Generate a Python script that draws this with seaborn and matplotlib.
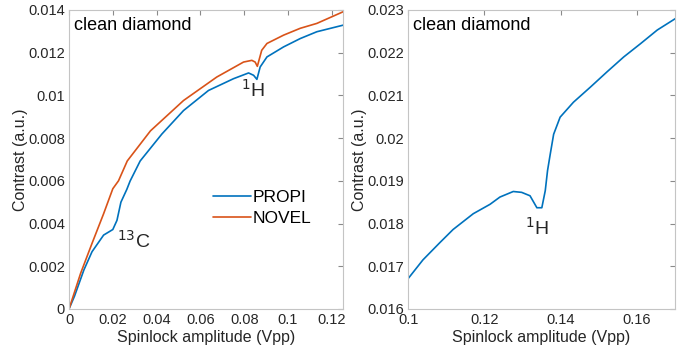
import numpy as np
import pandas as pd
import matplotlib
matplotlib.use("Agg")
import matplotlib.pyplot as plt
import seaborn as sns

# Spinlock sweep, full range: PROPI and NOVEL sequences
propi_x = [0.0, 0.0025, 0.0068, 0.0105, 0.0158, 0.0200, 0.0219, 0.0237, 0.0264, 0.0279,
           0.0325, 0.0424, 0.0523, 0.0637, 0.0751, 0.0820, 0.0843, 0.0858, 0.0873, 0.0904,
           0.0980, 0.1056, 0.1132, 0.1253]
propi_y = [0.0, 0.0006, 0.00183, 0.00268, 0.00346, 0.00372, 0.00415, 0.0050, 0.0056, 0.00599,
           0.00693, 0.00819, 0.00929, 0.01023, 0.01078, 0.01105, 0.01094, 0.01075, 0.01133, 0.01180,
           0.01227, 0.01266, 0.01298, 0.01329]

novel_x = [0.0, 0.0053, 0.0105, 0.0158, 0.0200, 0.0226, 0.0266, 0.0372, 0.0523, 0.0675,
           0.0797, 0.0835, 0.0850, 0.0860, 0.0880, 0.0904, 0.0980, 0.1056, 0.1132, 0.1253]
novel_y = [0.0, 0.00167, 0.00307, 0.00446, 0.00563, 0.0060, 0.00693, 0.00834, 0.00976, 0.01086,
           0.01156, 0.01164, 0.01156, 0.01136, 0.01211, 0.01243, 0.01282, 0.01314, 0.01337, 0.01392]

# Zoomed sweep around the 1H resonance
zoom_x = [0.1000, 0.1039, 0.1083, 0.1118, 0.1171, 0.1215, 0.1241, 0.1276, 0.1298, 0.1320,
          0.1338, 0.1351, 0.1360, 0.1366, 0.1373, 0.1382, 0.1399, 0.1434, 0.1478, 0.1522,
          0.1566, 0.1610, 0.1654, 0.1702]
zoom_y = [0.01671, 0.01715, 0.01755, 0.01786, 0.01823, 0.01845, 0.01862, 0.01875, 0.01873, 0.01865,
          0.01837, 0.01837, 0.01877, 0.01924, 0.01962, 0.02009, 0.02049, 0.02084, 0.02119, 0.02155,
          0.02190, 0.02221, 0.02253, 0.02280]

series_names = ["PROPI", "NOVEL"]
left_ticks = [0, 0.002, 0.004, 0.006, 0.008, 0.01, 0.012, 0.014]
left_ticklabels = ["0", "0.002", "0.004", "0.006", "0.008", "0.01", "0.012", "0.014"]
left_xticks = [0, 0.02, 0.04, 0.06, 0.08, 0.1, 0.12]
left_xticklabels = ["0", "0.02", "0.04", "0.06", "0.08", "0.1", "0.12"]
right_ticks = [0.016, 0.017, 0.018, 0.019, 0.02, 0.021, 0.022, 0.023]
right_ticklabels = ["0.016", "0.017", "0.018", "0.019", "0.02", "0.021", "0.022", "0.023"]
right_xticks = [0.1, 0.12, 0.14, 0.16]
right_xticklabels = ["0.1", "0.12", "0.14", "0.16"]

sns.set_style("white")
plt.rcParams["font.family"] = ["Liberation Sans", "DejaVu Sans"]

blue = "#0072BD"
orange = "#D95319"
spine_col = "#c4c4c4"
text_col = "#262626"

df_full = pd.concat([
    pd.DataFrame({"x": propi_x, "y": propi_y, "series": series_names[0]}),
    pd.DataFrame({"x": novel_x, "y": novel_y, "series": series_names[1]}),
])
df_zoom = pd.DataFrame({"x": zoom_x, "y": zoom_y})

fig = plt.figure(figsize=(7.0, 3.51), dpi=100)
ax1 = fig.add_axes([0.0986, 0.1197, 0.391, 0.852])
ax2 = fig.add_axes([0.583, 0.1197, 0.381, 0.852])

sns.lineplot(data=df_full, x="x", y="y", hue="series", hue_order=series_names,
             palette=[blue, orange], ax=ax1, linewidth=1.2, sort=False, legend=True)
sns.lineplot(data=df_zoom, x="x", y="y", color=blue, ax=ax2, linewidth=1.2, sort=False)

def style(ax, xlim, ylim, xt, xtl, yt, ytl):
    ax.set_xlim(*xlim)
    ax.set_ylim(*ylim)
    ax.set_xticks(xt)
    ax.set_xticklabels(xtl)
    ax.set_yticks(yt)
    ax.set_yticklabels(ytl)
    for s in ax.spines.values():
        s.set_color(spine_col)
        s.set_linewidth(0.8)
    ax.tick_params(direction="in", length=3.5, width=0.8, color="#8a8a8a",
                   top=True, right=True, labelsize=10.5, labelcolor=text_col, pad=3)
    ax.set_xlabel("Spinlock amplitude (Vpp)", fontsize=11.5, color=text_col, labelpad=2)
    ax.set_ylabel("Contrast (a.u.)", fontsize=11.5, color=text_col, labelpad=0)
    ax.text(0.02, 0.975, "clean diamond", transform=ax.transAxes, ha="left", va="top",
            fontsize=13, color="black")

style(ax1, (0, 0.125), (0, 0.014), left_xticks, left_xticklabels, left_ticks, left_ticklabels)
style(ax2, (0.1, 0.17), (0.016, 0.023), right_xticks, right_xticklabels, right_ticks, right_ticklabels)

leg = ax1.legend(loc="upper left", bbox_to_anchor=(0.5, 0.42), frameon=False,
                 fontsize=12.5, handlelength=2.2, handletextpad=0.1, labelspacing=0.3,
                 borderaxespad=0)
for t in leg.get_texts():
    t.set_color("black")

ax1.text(0.022, 0.0032, r"$^{13}$C", fontsize=14, ha="left", va="center")
ax1.text(0.0785, 0.01025, r"$^{1}$H", fontsize=14, ha="left", va="center")
ax2.text(0.1308, 0.0179, r"$^{1}$H", fontsize=14, ha="left", va="center")

fig.savefig("out.png", dpi=100)
